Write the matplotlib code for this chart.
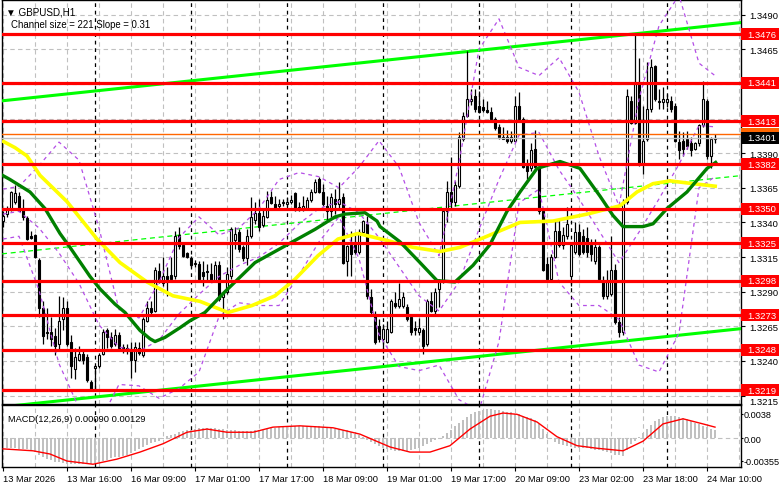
import numpy as np
import matplotlib.pyplot as plt
import matplotlib.transforms as mtransforms
from matplotlib.patches import Rectangle

# ---- hourly GBPUSD candles, bar 0 = 13 Mar 2026 00:00
open_ = [1.3341, 1.3346, 1.3349, 1.3355, 1.3359, 1.3350, 1.3343, 1.3330, 1.3331, 1.3313,
         1.3278, 1.3260, 1.3261, 1.3258, 1.3252, 1.3270, 1.3278, 1.3254, 1.3234, 1.3241,
         1.3245, 1.3243, 1.3225, 1.3235, 1.3236, 1.3245, 1.3262, 1.3257, 1.3252, 1.3259,
         1.3250, 1.3249, 1.3247, 1.3241, 1.3249, 1.3244, 1.3269, 1.3278, 1.3276, 1.3305,
         1.3296, 1.3301, 1.3302, 1.3301, 1.3331, 1.3324, 1.3318, 1.3314, 1.3310, 1.3310,
         1.3304, 1.3305, 1.3303, 1.3298, 1.3309, 1.3286, 1.3290, 1.3301, 1.3327, 1.3333,
         1.3322, 1.3314, 1.3330, 1.3342, 1.3347, 1.3338, 1.3344, 1.3358, 1.3353, 1.3352,
         1.3354, 1.3353, 1.3355, 1.3361, 1.3351, 1.3350, 1.3350, 1.3356, 1.3362, 1.3371,
         1.3362, 1.3352, 1.3348, 1.3357, 1.3353, 1.3358, 1.3312, 1.3324, 1.3326, 1.3319,
         1.3333, 1.3339, 1.3286, 1.3274, 1.3265, 1.3256, 1.3254, 1.3261, 1.3282, 1.3280,
         1.3280, 1.3279, 1.3272, 1.3264, 1.3261, 1.3262, 1.3252, 1.3283, 1.3276, 1.3292,
         1.3297, 1.3348, 1.3362, 1.3355, 1.3366, 1.3400, 1.3417, 1.3428, 1.3431, 1.3424,
         1.3423, 1.3421, 1.3420, 1.3415, 1.3409, 1.3402, 1.3402, 1.3399, 1.3399, 1.3424,
         1.3415, 1.3381, 1.3379, 1.3393, 1.3380, 1.3348, 1.3310, 1.3299, 1.3315, 1.3334,
         1.3324, 1.3330, 1.3301, 1.3319, 1.3333, 1.3330, 1.3329, 1.3324, 1.3312, 1.3322,
         1.3298, 1.3287, 1.3288, 1.3306, 1.3268, 1.3261, 1.3355, 1.3428, 1.3412, 1.3440,
         1.3382, 1.3400, 1.3422, 1.3453, 1.3428, 1.3427, 1.3427, 1.3428, 1.3424, 1.3398,
         1.3399, 1.3400, 1.3397, 1.3393, 1.3397, 1.3410, 1.3428, 1.3388, 1.3400]
high = [1.3348, 1.3352, 1.3363, 1.3367, 1.3362, 1.3357, 1.3345, 1.3334, 1.3332, 1.3314,
        1.3283, 1.3278, 1.3272, 1.3264, 1.3287, 1.3286, 1.3283, 1.3259, 1.3249, 1.3251,
        1.3247, 1.3245, 1.3226, 1.3237, 1.3246, 1.3263, 1.3264, 1.3261, 1.3263, 1.3261,
        1.3252, 1.3252, 1.3254, 1.3254, 1.3254, 1.3272, 1.3283, 1.3283, 1.3308, 1.3311,
        1.3315, 1.3308, 1.3315, 1.3334, 1.3337, 1.3325, 1.3319, 1.3316, 1.3313, 1.3312,
        1.3312, 1.3310, 1.3311, 1.3312, 1.3312, 1.3290, 1.3308, 1.3337, 1.3337, 1.3335,
        1.3324, 1.3335, 1.3358, 1.3355, 1.3357, 1.3350, 1.3363, 1.3363, 1.3359, 1.3357,
        1.3357, 1.3358, 1.3360, 1.3362, 1.3355, 1.3359, 1.3358, 1.3364, 1.3371, 1.3373,
        1.3368, 1.3359, 1.3361, 1.3364, 1.3369, 1.3361, 1.3324, 1.3334, 1.3332, 1.3335,
        1.3342, 1.3345, 1.3292, 1.3276, 1.3270, 1.3267, 1.3269, 1.3285, 1.3290, 1.3296,
        1.3290, 1.3281, 1.3274, 1.3269, 1.3271, 1.3264, 1.3285, 1.3290, 1.3293, 1.3299,
        1.3350, 1.3370, 1.3387, 1.3370, 1.3405, 1.3420, 1.3464, 1.3436, 1.3436, 1.3435,
        1.3429, 1.3428, 1.3423, 1.3416, 1.3411, 1.3409, 1.3407, 1.3406, 1.3431, 1.3434,
        1.3416, 1.3386, 1.3397, 1.3407, 1.3382, 1.3350, 1.3315, 1.3317, 1.3341, 1.3342,
        1.3337, 1.3351, 1.3326, 1.3340, 1.3339, 1.3335, 1.3337, 1.3328, 1.3328, 1.3324,
        1.3301, 1.3306, 1.3330, 1.3310, 1.3272, 1.3357, 1.3436, 1.3431, 1.3476, 1.3459,
        1.3424, 1.3456, 1.3458, 1.3454, 1.3436, 1.3438, 1.3433, 1.3431, 1.3426, 1.3406,
        1.3405, 1.3406, 1.3402, 1.3398, 1.3411, 1.3442, 1.3429, 1.3402, 1.3404]
low = [1.3337, 1.3344, 1.3348, 1.3353, 1.3348, 1.3342, 1.3327, 1.3328, 1.3314, 1.3272,
       1.3252, 1.3256, 1.3251, 1.3244, 1.3247, 1.3262, 1.3251, 1.3228, 1.3227, 1.3240,
       1.3238, 1.3225, 1.3218, 1.3218, 1.3235, 1.3244, 1.3249, 1.3249, 1.3251, 1.3247,
       1.3246, 1.3245, 1.3228, 1.3232, 1.3244, 1.3243, 1.3268, 1.3274, 1.3275, 1.3296,
       1.3294, 1.3287, 1.3298, 1.3299, 1.3321, 1.3315, 1.3314, 1.3308, 1.3308, 1.3297,
       1.3294, 1.3298, 1.3297, 1.3297, 1.3283, 1.3270, 1.3288, 1.3299, 1.3321, 1.3319,
       1.3312, 1.3309, 1.3329, 1.3339, 1.3334, 1.3337, 1.3343, 1.3353, 1.3350, 1.3350,
       1.3352, 1.3352, 1.3353, 1.3348, 1.3348, 1.3348, 1.3349, 1.3355, 1.3361, 1.3361,
       1.3352, 1.3340, 1.3344, 1.3346, 1.3350, 1.3310, 1.3301, 1.3301, 1.3317, 1.3317,
       1.3332, 1.3285, 1.3274, 1.3252, 1.3254, 1.3246, 1.3253, 1.3260, 1.3278, 1.3278,
       1.3278, 1.3269, 1.3259, 1.3259, 1.3259, 1.3245, 1.3251, 1.3275, 1.3274, 1.3279,
       1.3296, 1.3340, 1.3350, 1.3352, 1.3365, 1.3399, 1.3416, 1.3425, 1.3420, 1.3419,
       1.3420, 1.3419, 1.3413, 1.3407, 1.3400, 1.3400, 1.3397, 1.3397, 1.3398, 1.3413,
       1.3379, 1.3371, 1.3377, 1.3379, 1.3346, 1.3305, 1.3297, 1.3298, 1.3314, 1.3322,
       1.3321, 1.3328, 1.3294, 1.3317, 1.3316, 1.3317, 1.3315, 1.3312, 1.3310, 1.3297,
       1.3285, 1.3285, 1.3287, 1.3267, 1.3257, 1.3259, 1.3353, 1.3411, 1.3411, 1.3381,
       1.3375, 1.3399, 1.3420, 1.3428, 1.3422, 1.3422, 1.3423, 1.3420, 1.3398, 1.3386,
       1.3388, 1.3393, 1.3388, 1.3392, 1.3395, 1.3409, 1.3386, 1.3379, 1.3397]
close = [1.3345, 1.3350, 1.3362, 1.3361, 1.3348, 1.3344, 1.3328, 1.3329, 1.3315, 1.3278,
         1.3258, 1.3261, 1.3256, 1.3251, 1.3269, 1.3278, 1.3252, 1.3236, 1.3243, 1.3245,
         1.3241, 1.3226, 1.3220, 1.3236, 1.3244, 1.3261, 1.3257, 1.3251, 1.3259, 1.3249,
         1.3247, 1.3248, 1.3241, 1.3250, 1.3246, 1.3270, 1.3278, 1.3275, 1.3306, 1.3298,
         1.3301, 1.3299, 1.3299, 1.3330, 1.3323, 1.3316, 1.3315, 1.3309, 1.3311, 1.3299,
         1.3301, 1.3304, 1.3298, 1.3309, 1.3285, 1.3289, 1.3303, 1.3335, 1.3332, 1.3321,
         1.3314, 1.3330, 1.3344, 1.3347, 1.3337, 1.3345, 1.3356, 1.3354, 1.3350, 1.3353,
         1.3355, 1.3355, 1.3356, 1.3349, 1.3349, 1.3352, 1.3356, 1.3362, 1.3369, 1.3362,
         1.3353, 1.3348, 1.3358, 1.3353, 1.3357, 1.3311, 1.3323, 1.3317, 1.3319, 1.3333,
         1.3341, 1.3287, 1.3275, 1.3254, 1.3256, 1.3263, 1.3263, 1.3283, 1.3280, 1.3285,
         1.3286, 1.3270, 1.3261, 1.3262, 1.3264, 1.3251, 1.3283, 1.3276, 1.3290, 1.3297,
         1.3348, 1.3362, 1.3355, 1.3367, 1.3402, 1.3417, 1.3429, 1.3429, 1.3422, 1.3420,
         1.3421, 1.3420, 1.3415, 1.3408, 1.3402, 1.3400, 1.3399, 1.3402, 1.3424, 1.3415,
         1.3380, 1.3377, 1.3392, 1.3380, 1.3348, 1.3306, 1.3299, 1.3315, 1.3334, 1.3324,
         1.3331, 1.3339, 1.3324, 1.3333, 1.3317, 1.3319, 1.3319, 1.3317, 1.3322, 1.3299,
         1.3287, 1.3297, 1.3306, 1.3268, 1.3261, 1.3355, 1.3431, 1.3412, 1.3440, 1.3382,
         1.3399, 1.3422, 1.3452, 1.3429, 1.3427, 1.3429, 1.3429, 1.3422, 1.3399, 1.3392,
         1.3393, 1.3395, 1.3392, 1.3397, 1.3410, 1.3429, 1.3388, 1.3400, 1.3401]

# ---- moving averages, sampled along the drawn lines (bar, price)
ma_green_bars = [-0.75, 1.75, 6.75, 10.5, 14.25, 16.75, 21.75, 24.25, 28, 30.5, 34.25, 36.75, 38,
                 40.5, 44.25, 46.75, 50.5, 55.5, 58, 63, 68, 73, 78, 83, 85.5, 90.5, 93.5, 94.25,
                 99.25, 104.25, 108.5, 113, 117.5, 121.75, 126, 129.25, 133.5, 139.25, 144.25,
                 149.25, 152.5, 155, 158.5, 160, 162.5, 166, 171, 176, 178.5]
ma_green = [1.3375, 1.3371, 1.3362, 1.3350, 1.3332, 1.3322, 1.3301, 1.3292, 1.3281, 1.3275,
            1.3262, 1.3256, 1.3254, 1.3257, 1.3264, 1.3269, 1.3275, 1.3290, 1.3297, 1.3311,
            1.3319, 1.3327, 1.3335, 1.3344, 1.3346, 1.3347, 1.3341, 1.3337, 1.3326, 1.3311,
            1.3298, 1.3297, 1.3309, 1.3324, 1.3348, 1.3362, 1.3379, 1.3384, 1.3379, 1.3359,
            1.3345, 1.3337, 1.3337, 1.3337, 1.3339, 1.3350, 1.3362, 1.3379, 1.3384]
ma_yellow_bars = [-0.25, 3, 6, 9.25, 16, 23.5, 29.25, 36, 42.5, 49.25, 56.25, 62.25, 68, 73,
                  78.75, 83.75, 88.75, 96, 102.5, 109.25, 114.25, 121, 129.25, 137.5, 146,
                  154.25, 158.5, 162.5, 166.75, 172.5, 178.5]
ma_yellow = [1.3399, 1.3394, 1.3388, 1.3374, 1.3355, 1.3328, 1.3311, 1.3297, 1.3287, 1.3283,
             1.3275, 1.3280, 1.3287, 1.3299, 1.3316, 1.3328, 1.3332, 1.3327, 1.3322, 1.3319,
             1.3322, 1.3330, 1.3340, 1.3341, 1.3346, 1.3352, 1.3362, 1.3368, 1.3370, 1.3368,
             1.3366]

# ---- Bollinger bands (purple dotted): upper / middle / lower, sampled every 5 bars
bb_bars = [0, 4, 9, 14, 19, 24, 29, 34, 39, 44, 49, 54, 59, 64, 69, 74, 79, 84, 89, 94, 99,
           104, 109, 114, 119, 124, 129, 134, 139, 144, 149, 154, 159, 164, 169, 174, 178]
bb_upper = [1.3364, 1.3366, 1.3381, 1.3398, 1.3385, 1.3336, 1.3277, 1.3271, 1.3297, 1.3329,
            1.3344, 1.3331, 1.3336, 1.3350, 1.3371, 1.3376, 1.3373, 1.3365, 1.3380, 1.3399,
            1.3380, 1.3340, 1.3316, 1.3383, 1.3465, 1.3487, 1.3452, 1.3446, 1.3459, 1.3434,
            1.3388, 1.3352, 1.3429, 1.3482, 1.3504, 1.3455, 1.3446]
bb_middle = [1.3346, 1.3348, 1.3336, 1.3318, 1.3296, 1.3266, 1.3250, 1.3247, 1.3255, 1.3274,
             1.3288, 1.3301, 1.3309, 1.3315, 1.3325, 1.3339, 1.3350, 1.3355, 1.3347, 1.3329,
             1.3308, 1.3287, 1.3276, 1.3297, 1.3335, 1.3371, 1.3403, 1.3405, 1.3378, 1.3357,
             1.3334, 1.3311, 1.3333, 1.3357, 1.3382, 1.3410, 1.3409]
bb_lower = [1.3328, 1.3330, 1.3291, 1.3238, 1.3206, 1.3195, 1.3223, 1.3222, 1.3213, 1.3220,
            1.3232, 1.3272, 1.3282, 1.3280, 1.3280, 1.3302, 1.3326, 1.3344, 1.3314, 1.3259,
            1.3236, 1.3233, 1.3237, 1.3212, 1.3204, 1.3254, 1.3354, 1.3364, 1.3297, 1.3280,
            1.3280, 1.3270, 1.3237, 1.3232, 1.3260, 1.3365, 1.3373]

# ---- regression channel (from "Channel size = 221 Slope = 0.31")
chan_bars = [-0.25, 184.5]
chan_upper = [1.34278, 1.34843]
chan_mid = [1.33173, 1.33738]
chan_lower = [1.32068, 1.32633]

levels = [1.3476, 1.3441, 1.3413, 1.3382, 1.3350, 1.3325, 1.3298, 1.3273, 1.3248, 1.3219]
ask_line = 1.3404
bid_line = 1.3401

# ---- MACD(12,26,9)
macd_hist = [-0.00150, -0.00150, -0.00160, -0.00160, -0.00170, -0.00170, -0.00170, -0.00180,
             -0.00220, -0.00260, -0.00300, -0.00330, -0.00350,
             -0.00370, -0.00380, -0.00390, -0.00400, -0.00400, -0.00400, -0.00410, -0.00410,
             -0.00400, -0.00400, -0.00390, -0.00380,
             -0.00360, -0.00340, -0.00320, -0.00300, -0.00290, -0.00280,
             -0.00260, -0.00230, -0.00200, -0.00170, -0.00140, -0.00110, -0.00080, -0.00060,
             -0.00040, -0.00010,
             0.00030, 0.00050, 0.00070, 0.00090, 0.00110, 0.00120, 0.00130, 0.00140,
             0.00150, 0.00150, 0.00150, 0.00150, 0.00150, 0.00140, 0.00140, 0.00130, 0.00130,
             0.00120,
             0.00110, 0.00110, 0.00110, 0.00110, 0.00120, 0.00120, 0.00130, 0.00140,
             0.00150, 0.00160, 0.00170, 0.00180, 0.00180, 0.00190, 0.00190, 0.00190, 0.00190,
             0.00190, 0.00190, 0.00180, 0.00180, 0.00170,
             0.00160, 0.00150, 0.00140, 0.00140, 0.00130, 0.00120,
             0.00100, 0.00070, 0.00040, 0.00010, -0.00030, -0.00070, -0.00100, -0.00130,
             -0.00150, -0.00170,
             -0.00190, -0.00200, -0.00210, -0.00210, -0.00200, -0.00190,
             -0.00170, -0.00150, -0.00120, -0.00090, -0.00060, -0.00030, 0.00000, 0.00030,
             0.00080, 0.00130, 0.00180, 0.00230, 0.00280, 0.00330, 0.00370, 0.00400, 0.00420,
             0.00440, 0.00450, 0.00450, 0.00440, 0.00430, 0.00420,
             0.00410, 0.00400, 0.00380, 0.00370, 0.00350, 0.00330, 0.00310, 0.00280, 0.00220,
             0.00140, 0.00060,
             -0.00020, -0.00060, -0.00090, -0.00110, -0.00130, -0.00140, -0.00150, -0.00150,
             -0.00160, -0.00160, -0.00170, -0.00180, -0.00190, -0.00200, -0.00220, -0.00240,
             -0.00260, -0.00270, -0.00280,
             -0.00180, -0.00100, -0.00040, 0.00020, 0.00080, 0.00140, 0.00200, 0.00260,
             0.00300, 0.00330, 0.00350, 0.00350, 0.00340, 0.00330, 0.00320,
             0.00290, 0.00270, 0.00240, 0.00220, 0.00190, 0.00170, 0.00140, 0.00120]
macd_sig_bars = [0, 7.5, 11.75, 16, 22.5, 28.5, 34.25, 40, 46, 51, 56, 62.5, 67.5, 74.25,
                 82.5, 89.25, 96.75, 101.75, 106.75, 111.75, 116.75, 121.75, 125, 128.5,
                 133.5, 138.5, 143.5, 148.5, 155, 160, 165, 170, 175, 178]
macd_sig = [-0.0017, -0.0020, -0.0025, -0.0036, -0.0041, -0.0033, -0.0022, -0.0009, 0.0009,
            0.0014, 0.0009, 0.0009, 0.0017, 0.0019, 0.0016, 0.0006, -0.0014, -0.0022, -0.0022,
            -0.0012, 0.0014, 0.0034, 0.0039, 0.0037, 0.0025, 0.0002, -0.0012, -0.0016,
            -0.0020, -0.0005, 0.0022, 0.0030, 0.0022, 0.0017]

tick_bars = [0, 16, 32, 48, 64, 80, 96, 112, 128, 144, 160, 176]
tick_labels = ['13 Mar 2026', '13 Mar 16:00', '16 Mar 09:00', '17 Mar 01:00', '17 Mar 17:00',
               '18 Mar 09:00', '19 Mar 01:00', '19 Mar 17:00', '20 Mar 09:00', '23 Mar 02:00',
               '23 Mar 18:00', '24 Mar 10:00']
day_starts = [23, 47, 71, 95, 119, 142, 166]

plt.rcParams['font.family'] = ['Liberation Sans', 'DejaVu Sans']

open_ = np.array(open_)
high = np.array(high)
low = np.array(low)
close = np.array(close)
bars = np.arange(len(close))

W, H = 781, 489
fig = plt.figure(figsize=(W / 100, H / 100), dpi=100)
ax = fig.add_axes([2 / W, 84 / H, 739 / W, 404 / H])
ax2 = fig.add_axes([2 / W, 21 / H, 739 / W, 62 / H], sharex=ax)

ax.set_xlim(-0.25, 184.5)
ax.set_ylim(1.32089, 1.35006)

# grid
yt = np.arange(1.3215, 1.3491, 0.0025)
for y in yt:
    ax.axhline(y, color='#c0c0c0', lw=0.8, ls=(0, (4, 3)), zorder=0)
for a in (ax, ax2):
    for b in range(0, 185, 8):
        a.axvline(b, color='#c0c0c0', lw=0.8, ls=(0, (4, 3)), zorder=0)
    for b in day_starts:
        a.axvline(b, color='black', lw=0.9, ls=(0, (3, 3)), zorder=1)

# channel
ax.plot(chan_bars, chan_upper, color='#00ff00', lw=2.2, zorder=3)
ax.plot(chan_bars, chan_lower, color='#00ff00', lw=2.2, zorder=3)
ax.plot(chan_bars, chan_mid, color='#00ff00', lw=0.9, ls=(0, (4, 3)), zorder=3)

# candles
up = close >= open_
ax.vlines(bars, low, high, color='black', lw=0.9, zorder=4)
body_lo = np.minimum(open_, close)
body_h = np.maximum(np.abs(close - open_), 0.00003)
ax.bar(bars, body_h, bottom=body_lo, width=0.72, color=np.where(up, 'white', 'black'),
       edgecolor='black', lw=0.8, zorder=5)

# indicators
for band in (bb_upper, bb_middle, bb_lower):
    ax.plot(bb_bars, band, color='#b44ee6', lw=0.9, ls=(0, (3, 3)), zorder=6)
ax.plot(ma_yellow_bars, ma_yellow, color='#ffff00', lw=2.6, zorder=6, solid_capstyle='butt')
ax.plot(ma_green_bars, ma_green, color='#008000', lw=2.4, zorder=7, solid_capstyle='butt')

# levels
ax.axhline(bid_line, color='#c0c0c0', lw=1.0, zorder=7)
ax.axhline(ask_line, color='#ff6600', lw=1.0, zorder=7)
for lv in levels:
    ax.axhline(lv, color='#ff0000', lw=2.3, zorder=8)

# right axis (labels hidden under the level tags are left out)
ax.yaxis.tick_right()
ax.set_yticks(yt)
ax.set_yticklabels(['' if abs(v - 1.3440) < 1e-6 or abs(v - 1.3415) < 1e-6 else '%.4f' % v
                    for v in yt])
ax.tick_params(axis='y', length=3, width=0.8, labelsize=6.8, pad=3, colors='black')
ax.tick_params(axis='x', bottom=False, labelbottom=False)
# the lowest label peeks out just below the 1.3219 tag
for lab in ax.get_yticklabels():
    if lab.get_text() == '1.3215':
        lab.set_transform(lab.get_transform() +
                          mtransforms.ScaledTranslation(0, -3.5 / 72, fig.dpi_scale_trans))

trans = mtransforms.blended_transform_factory(ax.transAxes, ax.transData)
tag_w = 38 / 739
tag_h = 12 / 13852

def price_tag(y, fc, txt):
    ax.add_patch(Rectangle((1.0, y - tag_h / 2), tag_w, tag_h, transform=trans, fc=fc,
                           ec='none', clip_on=False, zorder=19))
    if txt:
        ax.text(1.0 + 6 / 739, y, txt, transform=trans, ha='left', va='center', fontsize=6.8,
                color='white', clip_on=False, zorder=20)

price_tag(ask_line, '#ff6600', '')
for lv in levels:
    price_tag(lv, '#ff0000', '%.4f' % lv)
price_tag(bid_line, 'black', '1.3401')

ax.text(0.006, 0.985, '\u25bc GBPUSD,H1', transform=ax.transAxes, fontsize=7.1, va='top', ha='left')
ax.text(0.012, 0.952, 'Channel size = 221 Slope = 0.31', transform=ax.transAxes, fontsize=6.9,
        va='top', ha='left')

# MACD panel
ax2.set_ylim(-0.004531, 0.005156)
ax2.axhline(0, color='#c0c0c0', lw=0.8, ls=(0, (4, 3)), zorder=0)
ax2.bar(bars, macd_hist, width=0.62, color='#c0c0c0', zorder=2)
ax2.plot(macd_sig_bars, macd_sig, color='#ff0000', lw=1.0, zorder=3)
ax2.yaxis.tick_right()
ax2.set_yticks([0.0038, 0.0, -0.00355])
ax2.set_yticklabels(['0.0038', '0.00', '-0.00355'])
ax2.tick_params(axis='y', length=1.5, width=0.8, labelsize=6.6, pad=0.5)
ax2.set_xticks(tick_bars)
ax2.set_xticklabels(tick_labels, ha='left')
ax2.tick_params(axis='x', length=3, width=0.8, labelsize=6.7, pad=2)
ax2.text(0.008, 0.86, 'MACD(12,26,9) 0.00090 0.00129', transform=ax2.transAxes, fontsize=6.7,
         va='top', ha='left')

for a in (ax, ax2):
    for s in a.spines.values():
        s.set_color('black')
        s.set_linewidth(1.0)

fig.savefig('out.png', dpi=100)
